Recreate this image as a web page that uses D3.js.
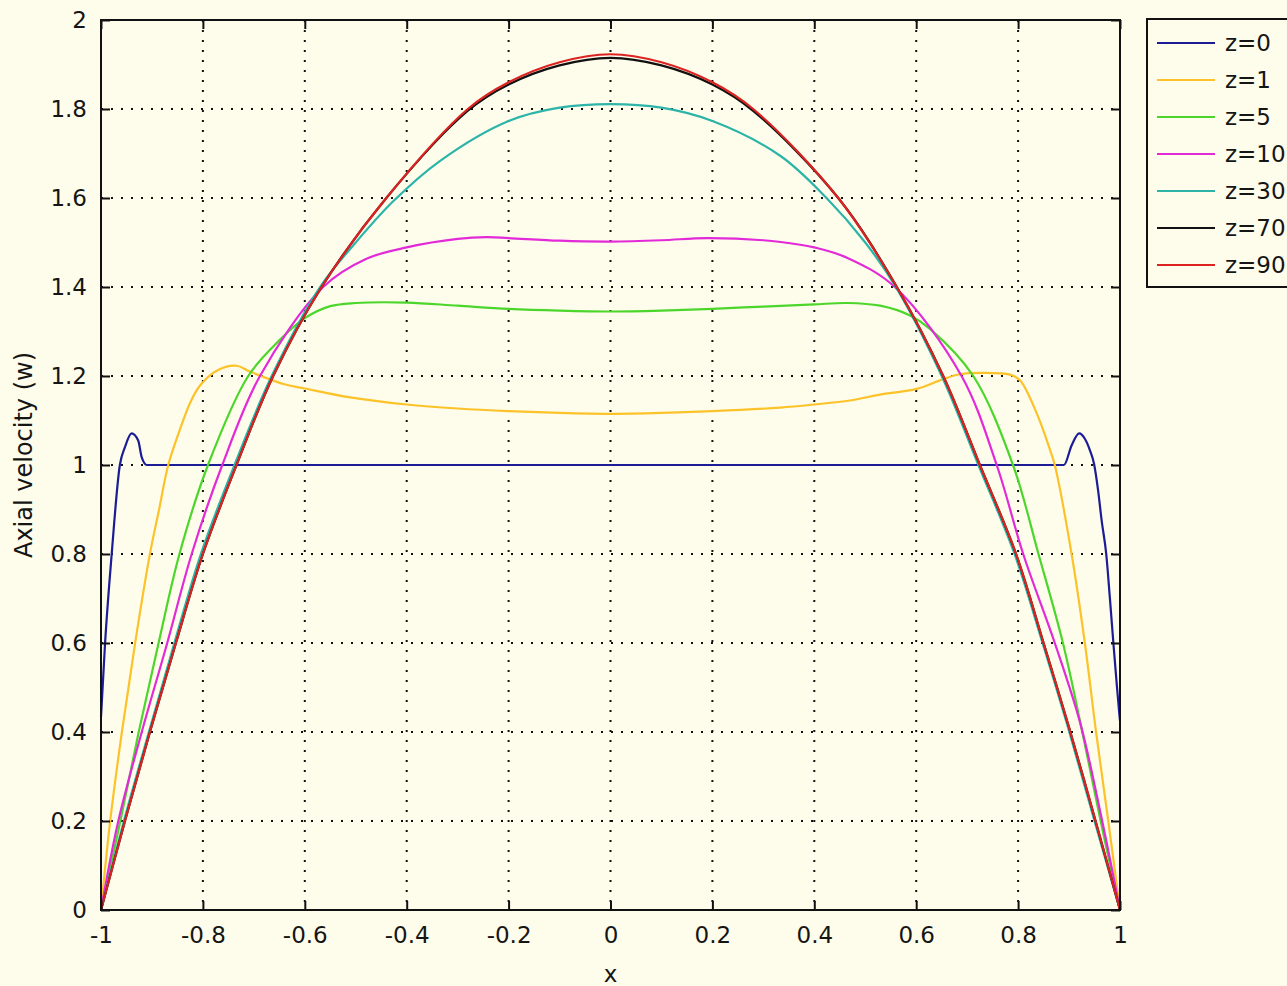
<!DOCTYPE html>
<html>
<head>
<meta charset="utf-8">
<script src="https://cdn.jsdelivr.net/npm/d3@7"></script>
<style>
  html, body { margin: 0; padding: 0; background: #fefdeb; }
  svg { display: block; }
  text { font-family: "DejaVu Sans", Verdana, sans-serif; fill: #151515; }
</style>
</head>
<body>
<svg id="chart" width="1287" height="986"></svg>
<script>
// Axial velocity profiles across the channel at several axial stations z.
const seriesNames = ["z=0", "z=1", "z=5", "z=10", "z=30", "z=70", "z=90"];
const seriesColors = ["#1c1c96", "#fcc22a", "#4cd62c", "#e22ad8", "#2cb4a8", "#111111", "#dd2222"];

const xTicks = [-1, -0.8, -0.6, -0.4, -0.2, 0, 0.2, 0.4, 0.6, 0.8, 1];
const yTicks = [0, 0.2, 0.4, 0.6, 0.8, 1, 1.2, 1.4, 1.6, 1.8, 2];

// z=0 (inlet: flat core with overshoots next to the walls)
const x0 = [-1, -0.992, -0.979, -0.963, -0.953, -0.94, -0.927, -0.92, -0.91, 0.89, 0.905, 0.92, 0.931, 0.941, 0.949, 0.957, 0.964, 0.973, 0.98, 0.987, 0.993, 0.998, 1];
const y0 = [0.434, 0.6, 0.8, 1.0, 1.04, 1.071, 1.055, 1.017, 1.0, 1.0, 1.044, 1.071, 1.059, 1.033, 1.003, 0.943, 0.875, 0.8, 0.703, 0.6, 0.516, 0.449, 0.425];

// z=1
const x1 = [-1, -0.982, -0.959, -0.933, -0.904, -0.886, -0.868, -0.845, -0.825, -0.806, -0.773, -0.734, -0.708, -0.642, -0.6, -0.511, -0.4, -0.3, -0.2, -0.1, 0, 0.1, 0.2, 0.333, 0.4, 0.47, 0.529, 0.601, 0.653, 0.686, 0.73, 0.784, 0.804, 0.837, 0.863, 0.872, 0.905, 0.931, 0.953, 0.977, 1];
const y1 = [0, 0.2, 0.4, 0.6, 0.8, 0.9, 1.0, 1.08, 1.14, 1.178, 1.212, 1.223, 1.21, 1.182, 1.172, 1.152, 1.136, 1.127, 1.121, 1.117, 1.115, 1.117, 1.121, 1.129, 1.136, 1.145, 1.158, 1.171, 1.193, 1.204, 1.207, 1.203, 1.19, 1.115, 1.033, 1.0, 0.8, 0.6, 0.4, 0.2, 0];

// z=5
const x5 = [-1, -0.962, -0.926, -0.887, -0.846, -0.79, -0.711, -0.65, -0.6, -0.55, -0.5, -0.4, -0.3, -0.2, -0.1, 0, 0.1, 0.2, 0.3, 0.4, 0.464, 0.529, 0.588, 0.627, 0.712, 0.79, 0.84, 0.888, 0.926, 0.962, 1];
const y5 = [0, 0.2, 0.4, 0.6, 0.8, 1.0, 1.2, 1.28, 1.33, 1.357, 1.364, 1.365, 1.358, 1.351, 1.347, 1.345, 1.347, 1.351, 1.356, 1.361, 1.364, 1.358, 1.336, 1.306, 1.2, 1.0, 0.8, 0.6, 0.4, 0.2, 0];

// z=10
const x10 = [-1, -0.966, -0.92, -0.87, -0.822, -0.762, -0.688, -0.564, -0.48, -0.4, -0.3, -0.243, -0.2, -0.1, 0, 0.1, 0.189, 0.3, 0.372, 0.4, 0.464, 0.558, 0.689, 0.758, 0.81, 0.872, 0.922, 0.965, 1];
const y10 = [0, 0.2, 0.4, 0.6, 0.8, 1.0, 1.2, 1.4, 1.463, 1.489, 1.508, 1.512, 1.51, 1.504, 1.502, 1.505, 1.51, 1.505, 1.495, 1.489, 1.466, 1.4, 1.2, 1.0, 0.8, 0.6, 0.42, 0.2, 0];

// z=30
const x30 = [-1, -0.955, -0.906, -0.856, -0.804, -0.738, -0.665, -0.57, -0.5, -0.427, -0.335, -0.2, -0.1, 0, 0.1, 0.2, 0.333, 0.424, 0.5, 0.56, 0.65, 0.722, 0.793, 0.848, 0.898, 0.95, 1];
const y30 = [0, 0.2, 0.4, 0.6, 0.8, 1.0, 1.2, 1.4, 1.5, 1.592, 1.683, 1.773, 1.803, 1.811, 1.803, 1.773, 1.695, 1.6, 1.5, 1.4, 1.2, 1.0, 0.8, 0.6, 0.41, 0.2, 0];

// z=70
const x70 = [-1, -0.953, -0.904, -0.853, -0.8, -0.734, -0.662, -0.567, -0.44, -0.28, -0.2, -0.1, 0, 0.1, 0.2, 0.28, 0.447, 0.562, 0.653, 0.725, 0.796, 0.85, 0.9, 0.952, 1];
const y70 = [0, 0.2, 0.4, 0.6, 0.8, 1.0, 1.2, 1.4, 1.6, 1.796, 1.855, 1.898, 1.915, 1.898, 1.855, 1.796, 1.6, 1.4, 1.2, 1.0, 0.8, 0.6, 0.41, 0.2, 0];

// z=90
const x90 = [-1, -0.953, -0.904, -0.853, -0.8, -0.734, -0.662, -0.567, -0.44, -0.28, -0.2, -0.1, 0, 0.1, 0.2, 0.28, 0.447, 0.562, 0.653, 0.725, 0.796, 0.85, 0.9, 0.952, 1];
const y90 = [0, 0.2, 0.4, 0.6, 0.8, 1.0, 1.2, 1.4, 1.6, 1.8, 1.86, 1.905, 1.923, 1.905, 1.86, 1.8, 1.6, 1.4, 1.2, 1.0, 0.8, 0.6, 0.41, 0.2, 0];

const seriesX = [x0, x1, x5, x10, x30, x70, x90];
const seriesY = [y0, y1, y5, y10, y30, y70, y90];

const W = 1287, H = 986;
const plot = { left: 101, right: 1120, top: 20, bottom: 910 };
const FONT = "'DejaVu Sans', Verdana, sans-serif";

const svg = d3.select("#chart");
svg.append("rect").attr("width", W).attr("height", H).attr("fill", "#fefdeb");

const x = d3.scaleLinear().domain([-1, 1]).range([plot.left, plot.right]);
const y = d3.scaleLinear().domain([0, 2]).range([plot.bottom, plot.top]);

// dotted grid
const grid = svg.append("g").attr("stroke", "#111").attr("stroke-width", 2)
  .attr("stroke-dasharray", "2 8");
grid.selectAll("line.vx").data(xTicks.slice(1, -1)).join("line")
  .attr("x1", d => x(d)).attr("x2", d => x(d))
  .attr("y1", plot.top).attr("y2", plot.bottom);
grid.selectAll("line.hy").data(yTicks.slice(1, -1)).join("line")
  .attr("x1", plot.left).attr("x2", plot.right)
  .attr("y1", d => y(d)).attr("y2", d => y(d));

// curves: the inlet profile keeps its flat core, the others are drawn smooth
const lineFlat = d3.line().x(d => x(d[0])).y(d => y(d[1])).curve(d3.curveMonotoneX);
const lineSmooth = d3.line().x(d => x(d[0])).y(d => y(d[1])).curve(d3.curveCatmullRom.alpha(0.5));
const curves = svg.append("g").attr("fill", "none").attr("stroke-width", 2.2)
  .attr("stroke-linejoin", "round");
seriesNames.forEach((name, i) => {
  const pts = seriesX[i].map((v, k) => [v, seriesY[i][k]]);
  const gen = i === 0 ? lineFlat : lineSmooth;
  curves.append("path").attr("d", gen(pts)).attr("stroke", seriesColors[i]);
});

// axes with inward ticks on all four sides
const fmt = d => String(d);
const tickLen = 9;
const axB = svg.append("g").attr("transform", `translate(0,${plot.bottom})`)
  .call(d3.axisBottom(x).tickValues(xTicks).tickFormat(fmt).tickSize(-tickLen).tickPadding(17));
const axL = svg.append("g").attr("transform", `translate(${plot.left},0)`)
  .call(d3.axisLeft(y).tickValues(yTicks).tickFormat(fmt).tickSize(-tickLen).tickPadding(14));
const axT = svg.append("g").attr("transform", `translate(0,${plot.top})`)
  .call(d3.axisTop(x).tickValues(xTicks).tickFormat("").tickSize(-tickLen));
const axR = svg.append("g").attr("transform", `translate(${plot.right},0)`)
  .call(d3.axisRight(y).tickValues(yTicks).tickFormat("").tickSize(-tickLen));
[axB, axL, axT, axR].forEach(a => {
  a.select(".domain").remove();
  a.selectAll(".tick line").attr("stroke", "#111").attr("stroke-width", 2);
  a.selectAll("text").attr("font-size", 23).attr("fill", "#151515")
    .style("font-family", FONT);
});

// frame
svg.append("rect").attr("x", plot.left).attr("y", plot.top)
  .attr("width", plot.right - plot.left).attr("height", plot.bottom - plot.top)
  .attr("fill", "none").attr("stroke", "#111").attr("stroke-width", 2);

// axis titles
svg.append("text").attr("x", x(0)).attr("y", 982).attr("text-anchor", "middle")
  .attr("font-size", 23).text("x");
svg.append("text").attr("transform", `translate(32,${(plot.top + plot.bottom) / 2 - 10}) rotate(-90)`)
  .attr("text-anchor", "middle").attr("font-size", 24).text("Axial velocity (w)");

// legend
const lg = svg.append("g");
lg.append("rect").attr("x", 1147).attr("y", 19).attr("width", 160).attr("height", 268)
  .attr("fill", "#fefdeb").attr("stroke", "#111").attr("stroke-width", 2);
seriesNames.forEach((name, i) => {
  const ry = 43 + i * 37;
  lg.append("line").attr("x1", 1157).attr("x2", 1215).attr("y1", ry).attr("y2", ry)
    .attr("stroke", seriesColors[i]).attr("stroke-width", 2.2);
  lg.append("text").attr("x", 1225).attr("y", ry + 8).attr("font-size", 23).text(name);
});
</script>
</body>
</html>
